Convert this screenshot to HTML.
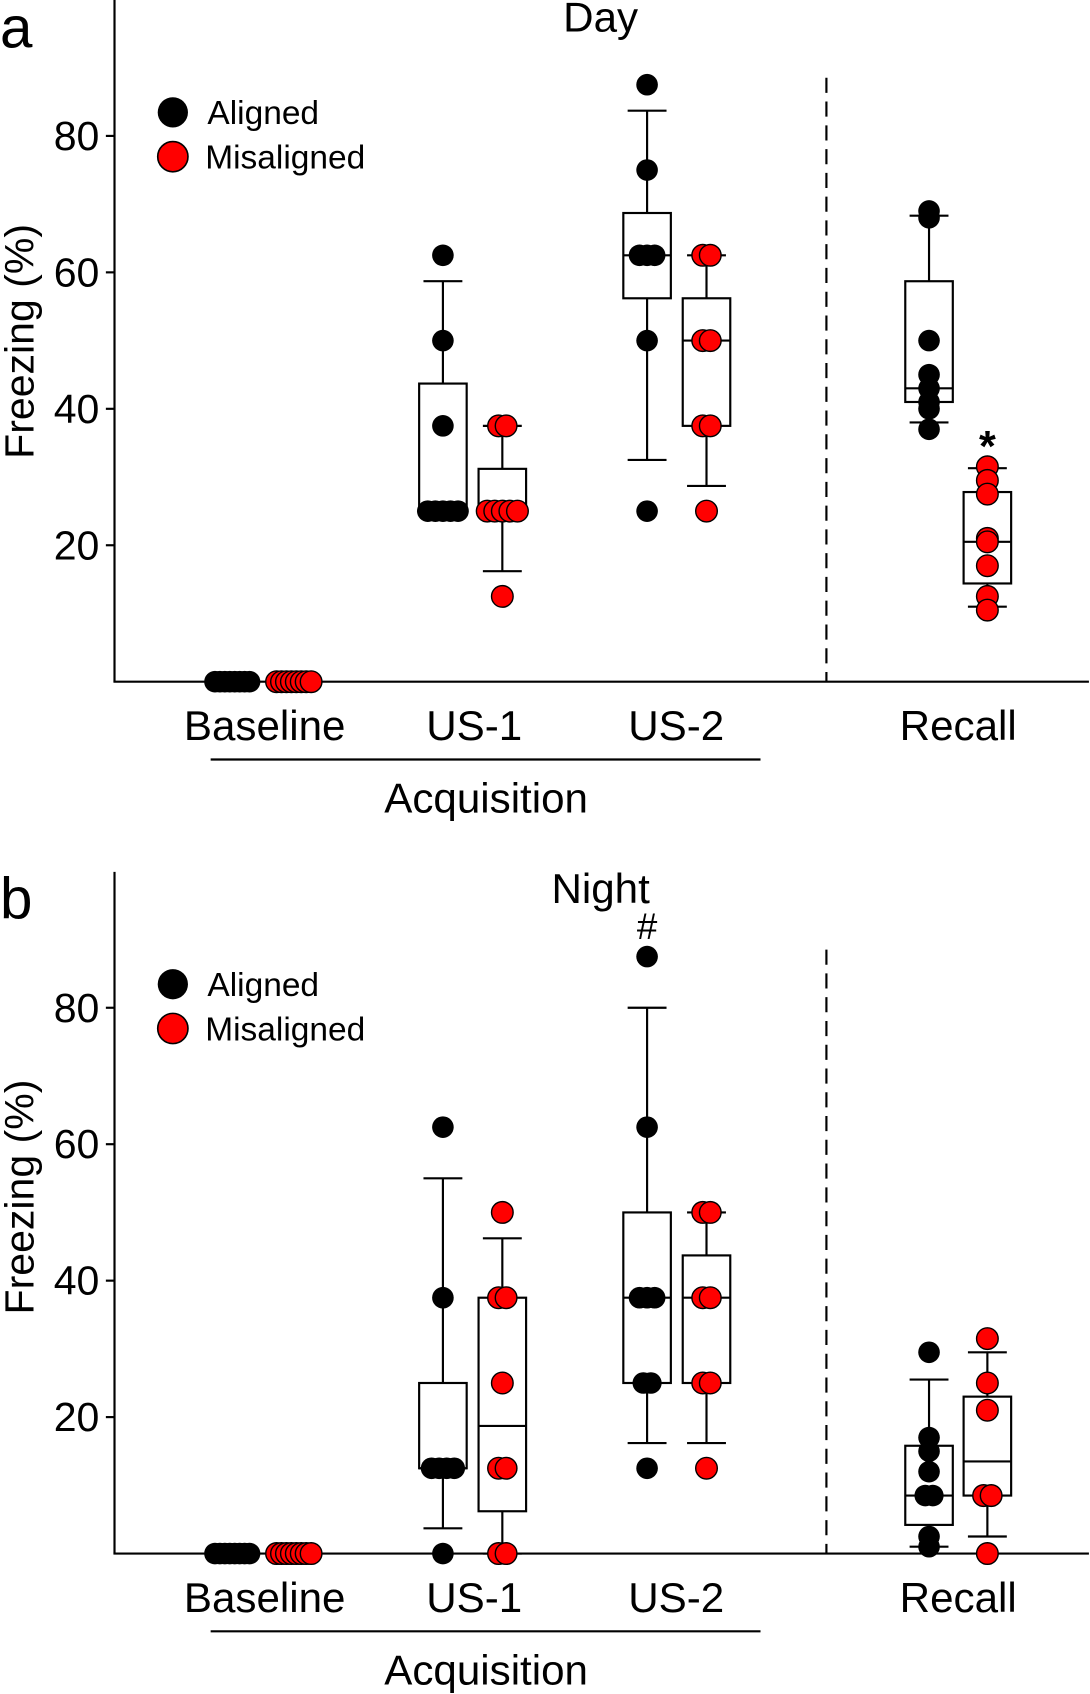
<!DOCTYPE html>
<html><head><meta charset="utf-8"><style>
html,body{margin:0;padding:0;background:#fff}
svg{display:block}
text{font-family:"Liberation Sans",Arial,sans-serif;fill:#000}
</style></head><body>
<svg id="fig" width="1090" height="1694" viewBox="0 0 1009 1568" preserveAspectRatio="none"></svg>
<script>
const categories = ["Baseline","US-1","US-2","Recall"];
const yTicks = [20,40,60,80];
// Panel a (Day) raw points
const dayAligned = [[0,0,0,0,0,0,0,0],[62.5,50,37.5,25,25,25,25,25],[87.5,75,62.5,62.5,62.5,50,25],[69,68,50,45,43,41,40,37]];
const dayMis = [[0,0,0,0,0,0,0,0],[37.5,37.5,25,25,25,25,25,12.5],[62.5,62.5,50,50,37.5,37.5,25],[31.5,29.5,27.5,21,20.5,17,12.5,10.5]];
// boxes: [lowWhisker,q1,median,q3,highWhisker] (null = no box)
const dayAlignedBox = [null,[25,25,25,43.7,58.7],[32.5,56.2,62.5,68.7,83.7],[38,41,43,58.7,68.3]];
const dayMisBox = [null,[16.2,25,25,31.2,37.5],[28.7,37.5,50,56.2,62.5],[11,14.4,20.5,27.8,31.3]];
// Panel b (Night)
const nightAligned = [[0,0,0,0,0,0,0,0],[62.5,37.5,12.5,12.5,12.5,12.5,0],[87.5,62.5,37.5,37.5,37.5,25,25,12.5],[29.5,17,15,12,8.5,8.5,2.5,1]];
const nightMis = [[0,0,0,0,0,0,0,0],[50,37.5,37.5,25,12.5,12.5,0,0],[50,50,37.5,37.5,25,25,12.5],[31.5,25,21,8.5,8.5,0]];
const nightAlignedBox = [null,[3.7,12.5,12.5,25,55],[16.2,25,37.5,50,80],[1,4.2,8.5,15.8,25.5]];
const nightMisBox = [null,[0,6.2,18.7,37.5,46.2],[16.2,25,37.5,43.7,50],[2.5,8.5,13.5,23,29.5]];

const NS="http://www.w3.org/2000/svg";
const svg=document.getElementById('fig');
function mk(tag,attrs,parent){const e=document.createElementNS(NS,tag);for(const k in attrs)e.setAttribute(k,attrs[k]);(parent||svg).appendChild(e);return e;}
const catX=[245,439,626,887];
const alX=[215,410,599,860], misX=[272,465,654,914];

function panel(off,letter,title,al,mi,alB,miB,markText,markVal,markX,markBold){
  const g=mk('g',{transform:'translate(0,'+off+')'});
  
  
  const y=v=>631-v*6.315;
  const ax=mk('line',{x1:106,y1:0,x2:106,y2:631,stroke:'#000','stroke-width':2},g);
  
  const bx=mk('line',{x1:105,y1:631,x2:1008,y2:631,stroke:'#000','stroke-width':2},g);
  
  yTicks.forEach(t=>{
    const l=mk('line',{x1:98,x2:106,y1:y(t),y2:y(t),stroke:'#000','stroke-width':2},g);
    
    const tx=mk('text',{x:92,y:y(t)+13,'text-anchor':'end','font-size':38},g);tx.textContent=t;
    
  });
  const yt=mk('text',{x:0,y:0,'text-anchor':'middle','font-size':38,transform:'translate(31,'+(off>0?301:316)+') rotate(-90)'},g);yt.textContent='Freezing (%)';
  
  const dl=mk('line',{x1:765,x2:765,y1:72,y2:631,stroke:'#000','stroke-width':2,'stroke-dasharray':'14,8'},g);
  
  categories.forEach((c,i)=>{
    const t=mk('text',{x:catX[i],y:685,'text-anchor':'middle','font-size':39},g);t.textContent=c;
    
  });
  const al2=mk('line',{x1:195,x2:704,y1:703,y2:703,stroke:'#000','stroke-width':2},g);
  
  const aq=mk('text',{x:450,y:752,'text-anchor':'middle','font-size':39},g);aq.textContent='Acquisition';
  
  const tt=mk('text',{x:556,y:(off>0?29:29),'text-anchor':'middle','font-size':39},g);tt.textContent=title;
  
  const lt=mk('text',{x:0,y:(off>0?43:44),'font-size':54},g);lt.textContent=letter;
  
  // legend
  const c1=mk('circle',{cx:160,cy:104,r:14,fill:'#000'},g);
  const l1=mk('text',{x:192,y:115,'font-size':31},g);l1.textContent='Aligned';
  const c2=mk('circle',{cx:160,cy:145,r:14,fill:'#f00',stroke:'#000','stroke-width':1.5},g);
  const l2=mk('text',{x:190,y:156,'font-size':31},g);l2.textContent='Misaligned';
  function box(b,cx,name){
    if(!b)return;
    const w=22;
    const wl=mk('line',{x1:cx,x2:cx,y1:y(b[4]),y2:y(b[0]),stroke:'#000','stroke-width':2},g);
    [b[0],b[4]].forEach(v=>{const c=mk('line',{x1:cx-18,x2:cx+18,y1:y(v),y2:y(v),stroke:'#000','stroke-width':2},g);});
    const r=mk('rect',{x:cx-w,y:y(b[3]),width:2*w,height:y(b[1])-y(b[3]),fill:'#fff',stroke:'#000','stroke-width':2},g);
    const m=mk('line',{x1:cx-w,x2:cx+w,y1:y(b[2]),y2:y(b[2]),stroke:'#000','stroke-width':2},g);
  }
  function pts(arr,cx,red,name){
    const cnt={};arr.forEach(v=>cnt[v]=(cnt[v]||0)+1);
    const seen={};
    arr.forEach(v=>{
      const n=cnt[v];const k=seen[v]=(seen[v]||0);seen[v]++;
      const sp=n>1?Math.min(7,32/(n-1)):0;
      const dx=(k-(n-1)/2)*sp;
      const c=mk('circle',{cx:cx+dx,cy:y(v),r:10,fill:red?'#f00':'#000',stroke:red?'#000':'none','stroke-width':1.3},g);
      
    });
  }
  for(let i=0;i<4;i++){
    box(alB[i],alX[i],'aligned-'+categories[i].toLowerCase());
    box(miB[i],misX[i],'misaligned-'+categories[i].toLowerCase());
    pts(al[i],alX[i],false,'aligned-'+categories[i].toLowerCase());
    pts(mi[i],misX[i],true,'misaligned-'+categories[i].toLowerCase());
  }
  const mt=mk('text',{x:markX,y:y(markVal)+(markBold?22:12),'text-anchor':'middle','font-size':markBold?40:34,'font-weight':markBold?'bold':'normal'},g);mt.textContent=markText;
  
}
panel(0,'a','Day',dayAligned,dayMis,dayAlignedBox,dayMisBox,'*',35.8,914,true);
panel(807,'b','Night',nightAligned,nightMis,nightAlignedBox,nightMisBox,'#',92,599,false);
</script>
</body></html>
